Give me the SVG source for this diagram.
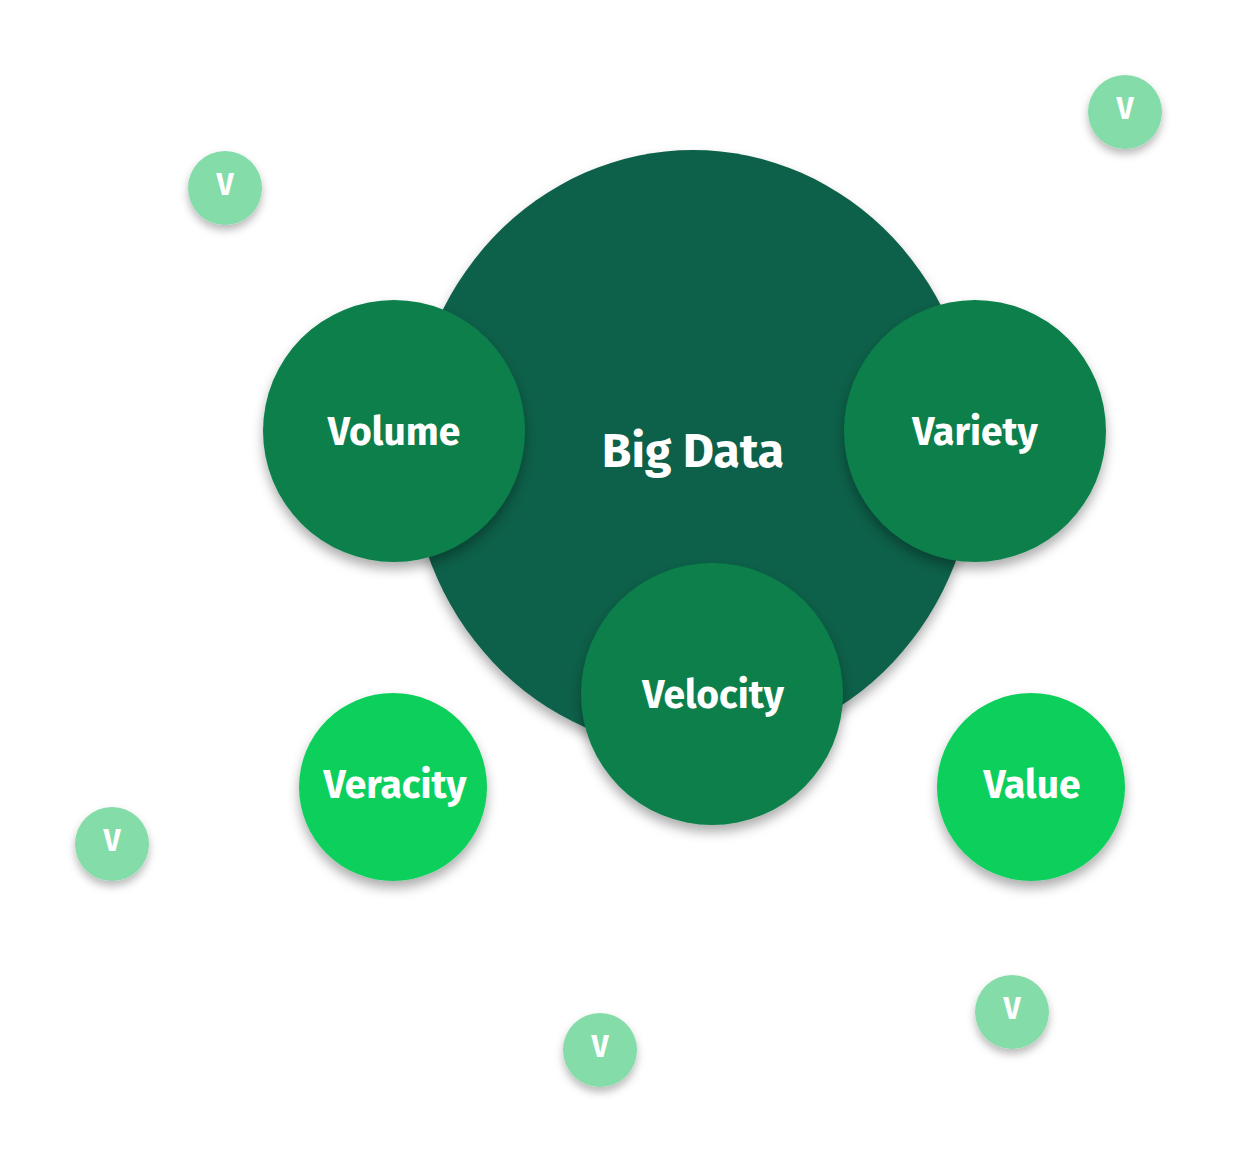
<svg xmlns="http://www.w3.org/2000/svg" width="1238" height="1163" viewBox="0 0 1238 1163">
  <defs>
    <filter id="sh" x="-30%" y="-30%" width="160%" height="170%">
      <feDropShadow dx="0" dy="7" stdDeviation="6" flood-color="#000" flood-opacity="0.32"/>
    </filter>
    <filter id="shs" x="-40%" y="-40%" width="180%" height="190%">
      <feDropShadow dx="0" dy="5" stdDeviation="4" flood-color="#000" flood-opacity="0.28"/>
    </filter>
  </defs>
  <style>
    text { font-family: "Fira Sans", Lato, "Open Sans", "Liberation Sans", sans-serif; font-weight: bold; fill: #ffffff; text-anchor: middle; dominant-baseline: central; }
    .big { fill: #116149; }
    .mid { fill: #0b7f4c; }
    .bright { fill: #0ccf5b; }
    .light { fill: #84dca9; }
    .t-big { font-size: 48px; }
    .t-mid { font-size: 39px; }
    .t-small { font-size: 30px; }
  </style>
  <rect width="1238" height="1163" fill="#ffffff"/>
  <g id="connectors"></g>
  <g id="big-data">
    <ellipse class="big" cx="693" cy="450" rx="283" ry="300" filter="url(#sh)"/>
    <text class="t-big" x="693" y="451">Big Data</text>
  </g>
  <g id="volume">
    <circle class="mid" cx="394" cy="431" r="131" filter="url(#sh)"/>
    <text class="t-mid" x="394" y="432">Volume</text>
  </g>
  <g id="variety">
    <circle class="mid" cx="975" cy="431" r="131" filter="url(#sh)"/>
    <text class="t-mid" x="975" y="432">Variety</text>
  </g>
  <g id="velocity">
    <circle class="mid" cx="712" cy="694" r="131" filter="url(#sh)"/>
    <text class="t-mid" x="713" y="695">Velocity</text>
  </g>
  <g id="veracity">
    <circle class="bright" cx="393" cy="787" r="94" filter="url(#sh)"/>
    <text class="t-mid" x="395" y="785">Veracity</text>
  </g>
  <g id="value">
    <circle class="bright" cx="1031" cy="787" r="94" filter="url(#sh)"/>
    <text class="t-mid" x="1032" y="785">Value</text>
  </g>
  <g id="v1">
    <circle class="light" cx="225" cy="188" r="37" filter="url(#shs)"/>
    <text class="t-small" x="225" y="185">V</text>
  </g>
  <g id="v2">
    <circle class="light" cx="1125" cy="112" r="37" filter="url(#shs)"/>
    <text class="t-small" x="1125" y="109">V</text>
  </g>
  <g id="v3">
    <circle class="light" cx="112" cy="844" r="37" filter="url(#shs)"/>
    <text class="t-small" x="112" y="841">V</text>
  </g>
  <g id="v4">
    <circle class="light" cx="600" cy="1050" r="37" filter="url(#shs)"/>
    <text class="t-small" x="600" y="1047">V</text>
  </g>
  <g id="v5">
    <circle class="light" cx="1012" cy="1012" r="37" filter="url(#shs)"/>
    <text class="t-small" x="1012" y="1009">V</text>
  </g>
</svg>
